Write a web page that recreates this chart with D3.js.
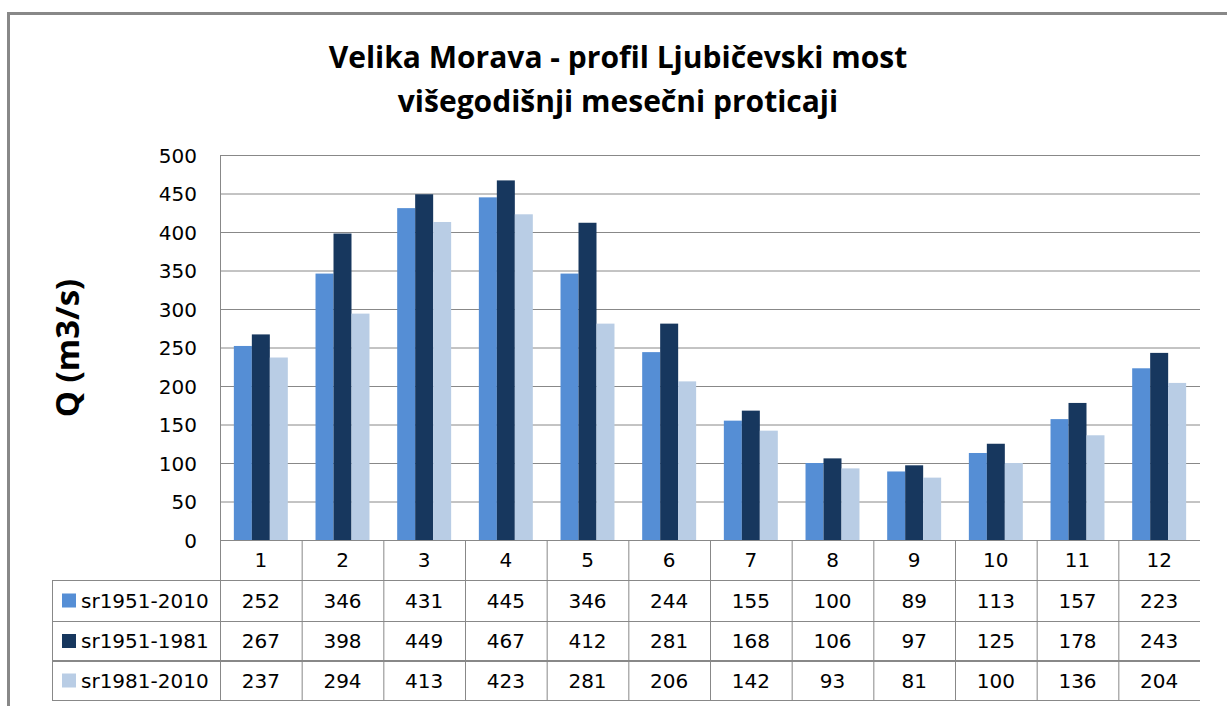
<!DOCTYPE html>
<html><head><meta charset="utf-8">
<script src="https://cdn.jsdelivr.net/npm/d3@7"></script>
<style>body{margin:0;background:#fff}svg{display:block}</style>
</head><body>
<svg id="c" width="1227" height="706"></svg>
<script>
const categories = ["1","2","3","4","5","6","7","8","9","10","11","12"];
const seriesNames = ["sr1951-2010","sr1951-1981","sr1981-2010"];
const s1951_2010 = [252,346,431,445,346,244,155,100,89,113,157,223];
const s1951_1981 = [267,398,449,467,412,281,168,106,97,125,178,243];
const s1981_2010 = [237,294,413,423,281,206,142,93,81,100,136,204];
const yTicks = [0,50,100,150,200,250,300,350,400,450,500];
const colors = ["#558ED5","#17375E","#B9CDE5"];
const series = [s1951_2010, s1951_1981, s1981_2010];

const svg = d3.select("#c");
const L = 220, R = 1200, T = 155, B = 540;
const font = "'DejaVu Sans', sans-serif";
const fs = 20;

// outer border
svg.append("path").attr("d","M8.5,706 L8.5,13.5 L1227,13.5").attr("fill","none").attr("stroke","#888").attr("stroke-width",3);

// title
const title = svg.append("text").attr("x",617).attr("text-anchor","middle")
  .attr("font-family","'Open Sans',sans-serif").attr("font-weight","bold").attr("font-size",30).attr("fill","#000");
title.append("tspan").attr("x",618).attr("y",68).text("Velika Morava - profil Ljubičevski most");
title.append("tspan").attr("x",618).attr("y",112).text("višegodišnji mesečni proticaji");

const x = d3.scaleBand().domain(categories).range([L,R]).paddingInner(0).paddingOuter(0);
const y = d3.scaleLinear().domain([0,500]).range([B,T]);
const inner = d3.scaleBand().domain(d3.range(3)).range([0,x.bandwidth()]).paddingInner(0).paddingOuter(0.77);

// gridlines
svg.append("g").selectAll("line").data(yTicks).join("line")
  .attr("x1",L).attr("x2",R).attr("y1",d=>y(d)+0.5).attr("y2",d=>y(d)+0.5)
  .attr("stroke","#888").attr("stroke-width",1);
svg.append("line").attr("x1",L+0.5).attr("x2",L+0.5).attr("y1",T).attr("y2",B).attr("stroke","#888");

// y axis labels
const yAxis = d3.axisLeft(y).tickValues(yTicks).tickSize(0).tickPadding(0);
const ga = svg.append("g").attr("transform",`translate(${197},0)`).call(yAxis);
ga.select(".domain").remove();
ga.selectAll("text").attr("font-family",font).attr("font-size",fs).attr("fill","#000").attr("dy","0.35em");

// y title
svg.append("text").attr("transform","translate(79,348) rotate(-90)").attr("text-anchor","middle")
  .attr("font-family","'Open Sans',sans-serif").attr("font-weight","bold").attr("font-size",33).text("Q (m3/s)");

// bars
series.forEach((s,i)=>{
  svg.append("g").selectAll("rect").data(s).join("rect")
    .attr("x",(d,j)=>x(categories[j])+inner(i))
    .attr("width",inner.bandwidth())
    .attr("y",d=>y(d)).attr("height",d=>B-y(d))
    .attr("fill",colors[i]);
});

// data table
const rowY = [540,580,621,661,700];
const tg = svg.append("g");
tg.append("line").attr("x1",52).attr("x2",R).attr("y1",580.5).attr("y2",580.5).attr("stroke","#888");
tg.append("line").attr("x1",52).attr("x2",R).attr("y1",621.5).attr("y2",621.5).attr("stroke","#888");
tg.append("line").attr("x1",52).attr("x2",R).attr("y1",661).attr("y2",661).attr("stroke","#888").attr("stroke-width",2);
tg.append("line").attr("x1",52).attr("x2",R).attr("y1",700.5).attr("y2",700.5).attr("stroke","#888");
tg.append("line").attr("x1",52.5).attr("x2",52.5).attr("y1",580).attr("y2",701).attr("stroke","#888");
categories.forEach((c,j)=>{
  tg.append("line").attr("x1",x(c)+0.5).attr("x2",x(c)+0.5).attr("y1",540).attr("y2",701).attr("stroke","#888");
});
tg.selectAll("text.h").data(categories).join("text").attr("class","h")
  .attr("x",d=>x(d)+x.bandwidth()/2).attr("y",560).attr("dy","0.35em").attr("text-anchor","middle")
  .attr("font-family",font).attr("font-size",fs).attr("fill","#000").text(d=>d);
series.forEach((s,i)=>{
  const cy = (rowY[i+1]+rowY[i+2])/2;
  tg.append("rect").attr("x",62).attr("y",cy-7).attr("width",14).attr("height",14).attr("fill",colors[i]);
  tg.append("text").attr("x",81).attr("y",cy).attr("dy","0.35em")
    .attr("font-family",font).attr("font-size",fs).attr("fill","#000").text(seriesNames[i]);
  tg.append("g").selectAll("text").data(s).join("text")
    .attr("x",(d,j)=>x(categories[j])+x.bandwidth()/2).attr("y",cy).attr("dy","0.35em").attr("text-anchor","middle")
    .attr("font-family",font).attr("font-size",fs).attr("fill","#000").text(d=>d);
});
</script>
</body></html>
